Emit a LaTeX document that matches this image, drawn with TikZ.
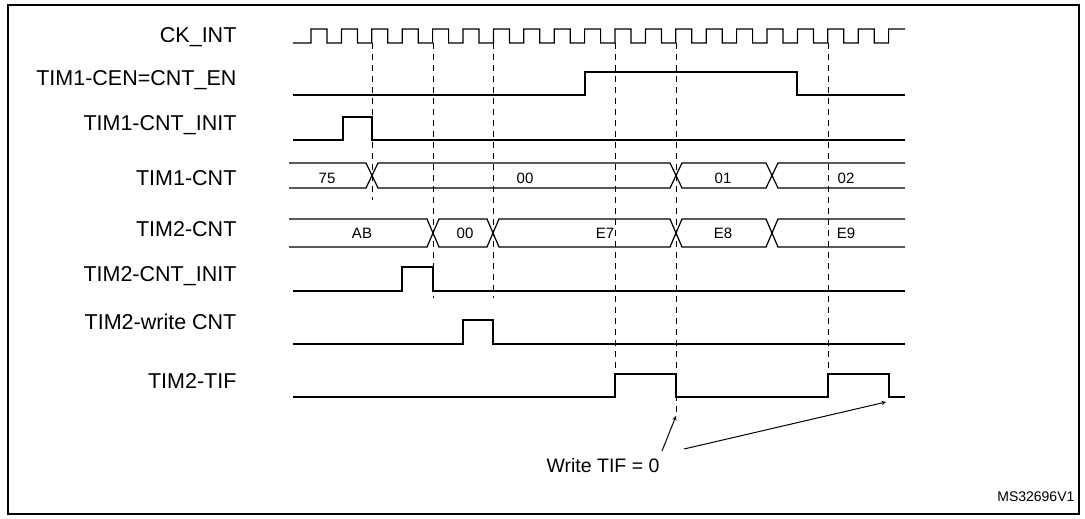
\documentclass[tikz,border=0pt]{standalone}
\usepackage{fontspec}
\setmainfont{Liberation Sans}
\begin{document}
\begin{tikzpicture}[x=1pt, y=-1pt, >=stealth, line width=1.2pt]
    \tikzset{lbl/.style = {anchor=east, font=\fontsize{21.5}{24}\selectfont, inner sep=0pt},
             val/.style = {font=\fontsize{15}{17}\selectfont, inner sep=0pt},
             tick/.style = {dashed, line width=0.9pt, dash pattern=on 6pt off 5pt}}

    \useasboundingbox (0,0) rectangle (1085,519);
    \draw (8,5) rectangle (1079,514);

    % signal names
    \node[lbl] (ck)    at (237,37)  {CK\_INT};
    \node[lbl] (en)    at (237,80)  {TIM1-CEN=CNT\_EN};
    \node[lbl] (init1) at (237,125) {TIM1-CNT\_INIT};
    \node[lbl] (cnt1)  at (237,178) {TIM1-CNT};
    \node[lbl] (cnt2)  at (237,229) {TIM2-CNT};
    \node[lbl] (init2) at (237,276) {TIM2-CNT\_INIT};
    \node[lbl] (wr)    at (237,322) {TIM2-write CNT};
    \node[lbl] (tif)   at (237,381) {TIM2-TIF};

    % clock
    \draw (293,43) -- (311,43)
        \foreach \k in {0,...,18} { -- ({311+30.4*\k},43) -- ({311+30.4*\k},29) -- ({327+30.4*\k},29) -- ({327+30.4*\k},43) -- ({341.4+30.4*\k},43) }
        -- (888.6,29) -- (905,29);

    % plain signals
    \draw (293,95) -- (585,95) -- (585,72) -- (797,72) -- (797,95) -- (905,95);
    \draw (293,140) -- (343,140) -- (343,117) -- (372,117) -- (372,140) -- (905,140);
    \draw (293,291) -- (402,291) -- (402,267) -- (433,267) -- (433,291) -- (905,291);
    \draw (293,344) -- (463,344) -- (463,320) -- (493,320) -- (493,344) -- (905,344);
    \draw (293,397) -- (615,397) -- (615,374) -- (676,374) -- (676,397) -- (828,397)
        -- (828,374) -- (889,374) -- (889,397) -- (905,397);

    % buses
    \draw (289,163) -- (366,163) -- (378,188) -- (670,188) -- (682,163) -- (766,163) -- (778,188) -- (905,188);
    \draw (289,188) -- (366,188) -- (378,163) -- (670,163) -- (682,188) -- (766,188) -- (778,163) -- (905,163);
    \draw (289,219) -- (427,219) -- (439,247) -- (487,247) -- (499,219) -- (670,219) -- (682,247) -- (766,247) -- (778,219) -- (905,219);
    \draw (289,247) -- (427,247) -- (439,219) -- (487,219) -- (499,247) -- (670,247) -- (682,219) -- (766,219) -- (778,247) -- (905,247);
    \node[val] (v75) at (327,178) {75};
    \node[val] (v00a) at (525,178) {00};
    \node[val] (v01) at (723,178) {01};
    \node[val] (v02) at (846,178) {02};
    \node[val] (vab) at (362,233) {AB};
    \node[val] (v00b) at (465,233) {00};
    \node[val] (ve7) at (605,233) {E7};
    \node[val] (ve8) at (723,233) {E8};
    \node[val] (ve9) at (846,233) {E9};

    % dashed markers
    \draw[tick] (372,43) -- (372,200);
    \draw[tick] (433,43) -- (433,298);
    \draw[tick] (493,43) -- (493,298);
    \draw[tick] (615,43) -- (615,374);
    \draw[tick] (676,43) -- (676,414);
    \draw[tick] (828,43) -- (828,374);

    % note
    \node[font=\fontsize{19.5}{22}\selectfont, inner sep=0pt] (note) at (603,466) {Write TIF = 0};
    \coordinate (c1) at (676,416);
    \coordinate (c2) at (886,402);
    \draw[->, line width=1pt] (662,451) -- (c1);
    \draw[->, line width=1pt] (684,449) -- (c2);

    \node[anchor=east, font=\fontsize{14}{16}\selectfont, inner sep=0pt] (ref) at (1075,497) {MS32696V1};
\end{tikzpicture}
\end{document}
